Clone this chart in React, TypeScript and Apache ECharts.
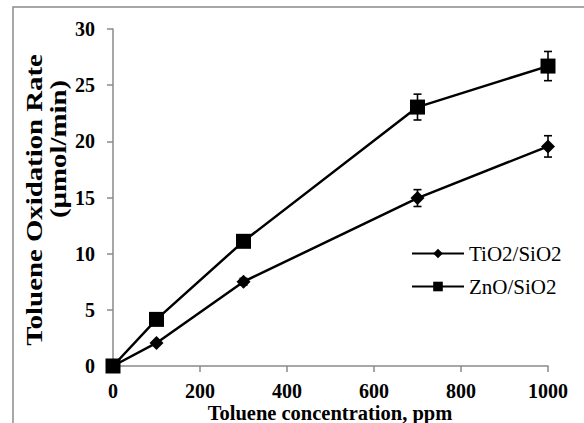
import React, { useEffect, useRef } from "react";
import * as echarts from "echarts";

const concentrations = [0, 100, 300, 700, 1000];
const tio2Rate = [0, 2.05, 7.5, 14.95, 19.55];
const tio2Err = [0, 0, 0.3, 0.75, 0.95];
const znoRate = [0, 4.15, 11.1, 23.05, 26.7];
const znoErr = [0, 0, 0.3, 1.15, 1.3];
const seriesNames = ["TiO2/SiO2", "ZnO/SiO2"];
const xTitle = "Toluene concentration, ppm";
const yTitle1 = "Toluene Oxidation Rate";
const yTitle2 = "(µmol/min)";

const FONT = "'Liberation Serif', 'Times New Roman', serif";

function errData(rates: number[], errs: number[]) {
  return concentrations
    .map((x, i) => [x, rates[i] - errs[i], rates[i] + errs[i]])
    .filter((_, i) => errs[i] > 0);
}

function renderErr(params: any, api: any) {
  const x = api.value(0);
  const lo = api.coord([x, api.value(1)]);
  const hi = api.coord([x, api.value(2)]);
  const cap = 4;
  const style = { stroke: "#000", lineWidth: 1.6 };
  return {
    type: "group",
    children: [
      { type: "line", shape: { x1: lo[0], y1: lo[1], x2: hi[0], y2: hi[1] }, style },
      { type: "line", shape: { x1: lo[0] - cap, y1: lo[1], x2: lo[0] + cap, y2: lo[1] }, style },
      { type: "line", shape: { x1: hi[0] - cap, y1: hi[1], x2: hi[0] + cap, y2: hi[1] }, style },
    ],
  };
}

export default function App() {
  const ref = useRef<HTMLDivElement>(null);
  useEffect(() => {
    if (!ref.current) return;
    const chart = echarts.init(ref.current, null, { renderer: "svg" });
    const axisLine = { show: true, lineStyle: { color: "#8a8a8a", width: 1.5 } };
    const axisTick = { show: true, inside: false, length: 6, lineStyle: { color: "#8a8a8a", width: 1.5 } };
    const labelStyle = { color: "#000", fontFamily: FONT, fontWeight: "bold" as const, fontSize: 20, lineHeight: 16 };
    chart.setOption({
      animation: false,
      backgroundColor: "#fff",
      grid: { left: 113, right: 36, top: 29, bottom: 57, outerBoundsMode: "none", containLabel: false },
      xAxis: {
        type: "value",
        min: 0,
        max: 1000,
        interval: 200,
        axisLine,
        axisTick,
        splitLine: { show: false },
        axisLabel: { ...labelStyle, margin: 17, formatter: (v: number) => String(v) },
      },
      yAxis: {
        type: "value",
        min: 0,
        max: 30,
        interval: 5,
        axisLine,
        axisTick,
        splitLine: { show: false },
        axisLabel: { ...labelStyle, margin: 18, formatter: (v: number) => String(v) },
      },
      legend: {
        data: seriesNames,
        orient: "vertical",
        left: 406,
        top: 238,
        itemWidth: 52,
        itemHeight: 12,
        itemGap: 12,
        textStyle: { color: "#000", fontFamily: FONT, fontSize: 21 },
      },
      graphic: [
        {
          type: "rect",
          silent: true,
          z: -1,
          shape: { x: 13, y: 7, width: 700, height: 600 },
          style: { fill: "none", stroke: "#8a8a8a", lineWidth: 1.5 },
        },
        {
          type: "text",
          x: 330,
          y: 412.5,
          style: {
            text: xTitle,
            fill: "#000",
            font: `bold 20.5px ${FONT}`,
            lineHeight: 18,
            align: "center",
            verticalAlign: "middle",
          },
        },
        {
          type: "text",
          x: 34,
          y: 200,
          rotation: Math.PI / 2,
          scaleX: 1.2,
          style: {
            text: yTitle1,
            fill: "#000",
            font: `bold 24px ${FONT}`,
            align: "center",
            verticalAlign: "middle",
          },
        },
        {
          type: "text",
          x: 58,
          y: 149,
          rotation: Math.PI / 2,
          scaleX: 1.2,
          style: {
            text: yTitle2,
            fill: "#000",
            font: `bold 24px ${FONT}`,
            align: "center",
            verticalAlign: "middle",
          },
        },
      ],
      series: [
        {
          name: seriesNames[0],
          type: "line",
          data: concentrations.map((x, i) => [x, tio2Rate[i]]),
          symbol: "diamond",
          symbolSize: 14,
          showAllSymbol: true,
          itemStyle: { color: "#000" },
          lineStyle: { color: "#000", width: 2.5 },
          z: 3,
        },
        {
          name: seriesNames[1],
          type: "line",
          data: concentrations.map((x, i) => [x, znoRate[i]]),
          symbol: "rect",
          symbolSize: 15,
          showAllSymbol: true,
          itemStyle: { color: "#000" },
          lineStyle: { color: "#000", width: 2.5 },
          z: 3,
        },
        {
          type: "custom",
          data: errData(tio2Rate, tio2Err),
          renderItem: renderErr,
          encode: { x: 0, y: [1, 2] },
          z: 2,
        },
        {
          type: "custom",
          data: errData(znoRate, znoErr),
          renderItem: renderErr,
          encode: { x: 0, y: [1, 2] },
          z: 2,
        },
      ],
    });
    return () => chart.dispose();
  }, []);
  return (
    <div
      ref={ref}
      style={{ position: "fixed", left: 0, top: 0, width: 584, height: 423 }}
    />
  );
}
